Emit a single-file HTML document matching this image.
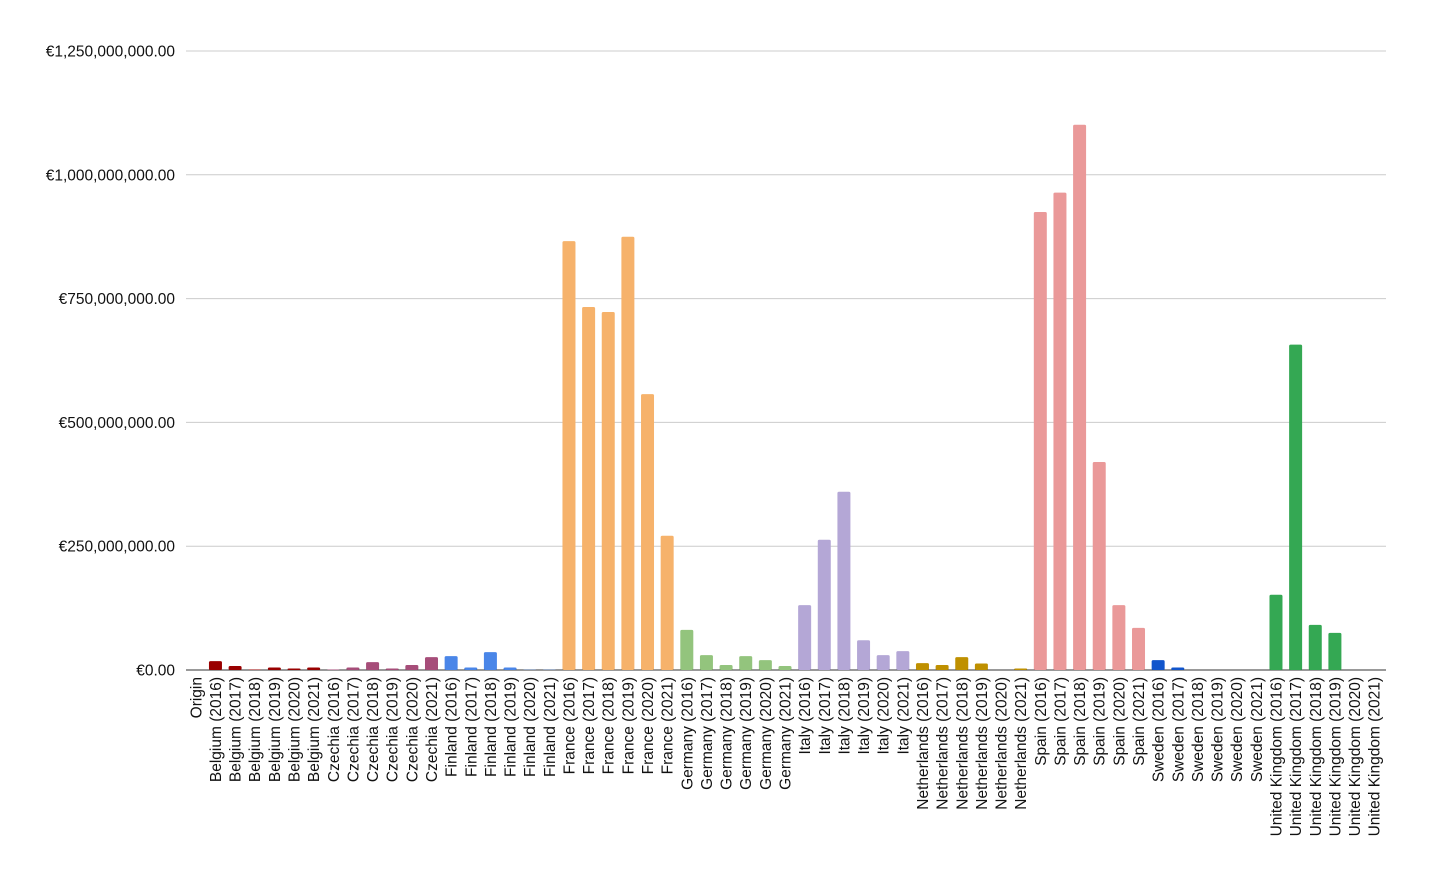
<!DOCTYPE html>
<html><head><meta charset="utf-8">
<style>
html,body{margin:0;padding:0;background:#fff;}
svg{display:block;font-family:"Liberation Sans",Arial,sans-serif;}
</style></head>
<body>
<svg id="chart" width="1430" height="884"></svg>
<script>
const countries = ["Belgium","Czechia","Finland","France","Germany","Italy","Netherlands","Spain","Sweden","United Kingdom"];
const years = ["2016","2017","2018","2019","2020","2021"];
const colors = ["#990000","#a64d79","#4a86e8","#f6b26b","#93c47d","#b4a7d6","#bf9000","#ea9999","#1155cc","#34a853"];
const belgium = [18e6,8e6,1e6,5e6,3e6,5e6];
const czechia = [1e6,5e6,16e6,3e6,10e6,26e6];
const finland = [28e6,5e6,36e6,5e6,0.5e6,0.5e6];
const france = [866e6,733e6,723e6,875e6,557e6,271e6];
const germany = [81e6,30e6,10e6,28e6,20e6,8e6];
const italy = [131e6,263e6,360e6,60e6,30e6,38e6];
const netherlands = [14e6,10e6,26e6,13e6,0,3e6];
const spain = [925e6,964e6,1101e6,420e6,131e6,85e6];
const sweden = [20e6,5e6,0,0,0,0];
const uk = [152e6,657e6,91e6,75e6,0,0];
const series = [belgium,czechia,finland,france,germany,italy,netherlands,spain,sweden,uk];
const yTicks = [0,250e6,500e6,750e6,1000e6,1250e6];
const yTickLabels = ["€0.00","€250,000,000.00","€500,000,000.00","€750,000,000.00","€1,000,000,000.00","€1,250,000,000.00"];

const NS="http://www.w3.org/2000/svg";
const svg=document.getElementById('chart');
const x0=186,x1=1384,yBase=670,yTop=51,yMax=1250e6;
const categories=["Origin"];
countries.forEach(c=>years.forEach(y=>categories.push(c+" ("+y+")")));
const step=(x1-x0)/categories.length;
const xC=i=>x0+step*(i+0.5);
const yS=v=>yBase-(v/yMax)*(yBase-yTop);
function mk(t,a){const e=document.createElementNS(NS,t);for(const k in a)e.setAttribute(k,a[k]);svg.appendChild(e);return e;}

yTicks.forEach((t,i)=>{
  const g=mk('line',{x1:x0,x2:1386,y1:yS(t),y2:yS(t),stroke:i===0?'#333':'#ccc','stroke-width':1});
  
  
  const tx=mk('text',{x:175,y:yS(t)+5.5,'text-anchor':'end','font-size':15.5,fill:'#111'});
  tx.textContent=yTickLabels[i];
  
  
});

series.forEach((vals,ci)=>{
  vals.forEach((v,yi)=>{
    const idx=1+ci*6+yi;
    const h=yBase-yS(v);
    const r=mk('rect',{x:xC(idx)-6.5,y:yS(v),width:13,height:Math.max(h,0),fill:colors[ci],rx:1.5});
    
    
  });
});

categories.forEach((c,i)=>{
  const x=xC(i)+5.5;
  const t=mk('text',{x:x,y:677,'text-anchor':'end','font-size':15.5,fill:'#111',transform:`rotate(-90 ${x} 677)`});
  t.textContent=c;
  
  
});
</script>
</body></html>
